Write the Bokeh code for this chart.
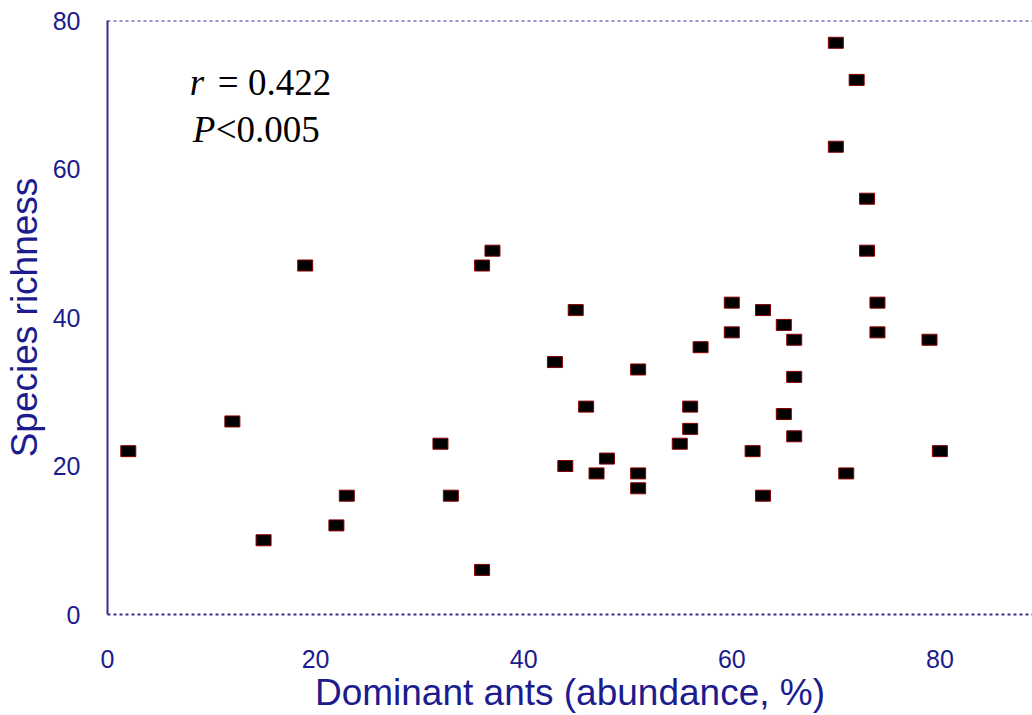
from bokeh.plotting import figure
from bokeh.models import ColumnDataSource, Label, Span, Range1d, FixedTicker
from bokeh.embed import file_html
from bokeh.resources import INLINE

# Dominant ants (abundance, %)
dominant_ants = [2, 12, 15, 19, 22, 23, 32, 33, 36, 37, 36, 43, 44, 45, 46, 47, 48,
                 51, 51, 51, 55, 56, 56, 57, 60, 60, 62, 63, 63, 65, 65, 66, 66, 66,
                 70, 70, 71, 72, 73, 73, 74, 74, 79, 80]
# Species richness
species_richness = [22, 26, 10, 47, 12, 16, 23, 16, 47, 49, 6, 34, 20, 41, 28, 19, 21,
                    33, 19, 17, 23, 28, 25, 36, 42, 38, 22, 41, 16, 39, 27, 37, 32, 24,
                    77, 63, 19, 72, 56, 49, 42, 38, 37, 22]
x_ticks = [0, 20, 40, 60, 80]
y_ticks = [0, 20, 40, 60, 80]

AXIS_COLOR = "#1c1c8e"
LINE_COLOR = "#3a2a8a"

p = figure(width=1032, height=715, output_backend="svg", toolbar_location=None,
           x_range=Range1d(0, 88.9), y_range=Range1d(0, 80),
           min_border_left=107, min_border_right=0, min_border_top=20,
           min_border_bottom=101)
p.outline_line_color = None
p.xgrid.visible = False
p.ygrid.visible = False
p.background_fill_color = "white"
p.border_fill_color = "white"

src = ColumnDataSource(dict(x=dominant_ants, y=species_richness))
p.rect(x="x", y="y", width=15, height=11, width_units="screen", height_units="screen",
       source=src, fill_color="black", line_color="#8a0000", line_width=1)

for ax in (p.xaxis[0], p.yaxis[0]):
    ax.major_tick_line_color = None
    ax.minor_tick_line_color = None
    ax.major_label_text_color = AXIS_COLOR
    ax.major_label_text_font = "Liberation Sans"
    ax.major_label_text_font_size = "25px"
    ax.axis_label_text_color = AXIS_COLOR
    ax.axis_label_text_font = "Liberation Sans"
    ax.axis_label_text_font_size = "37px"
    ax.axis_label_text_font_style = "normal"
    ax.axis_line_color = LINE_COLOR
    ax.axis_line_width = 2

p.xaxis.ticker = FixedTicker(ticks=x_ticks)
p.yaxis.ticker = FixedTicker(ticks=y_ticks)
p.xaxis.axis_label = "Dominant ants (abundance, %)"
p.yaxis.axis_label = "Species richness"
p.xaxis.major_label_standoff = 29
p.xaxis.axis_label_standoff = 1
p.yaxis.major_label_standoff = 21
p.yaxis.axis_label_standoff = 5
p.xaxis.axis_line_dash = "3 3"

top = Span(location=80, dimension="width", line_color=LINE_COLOR, line_width=2,
           line_dash="3 3")
p.add_layout(top)

def lab(x, y, t, style):
    p.add_layout(Label(x=x, y=y, text=t, text_font="Liberation Serif",
                       text_font_size="37px", text_font_style=style,
                       text_color="black", text_baseline="alphabetic"))

lab(7.9, 71.6, "r", "italic")
lab(10.6, 71.6, "= 0.422", "normal")
lab(8.2, 65.3, "P", "italic")
lab(10.4, 65.3, "<0.005", "normal")

open("out.html", "w").write(file_html(p, INLINE))
